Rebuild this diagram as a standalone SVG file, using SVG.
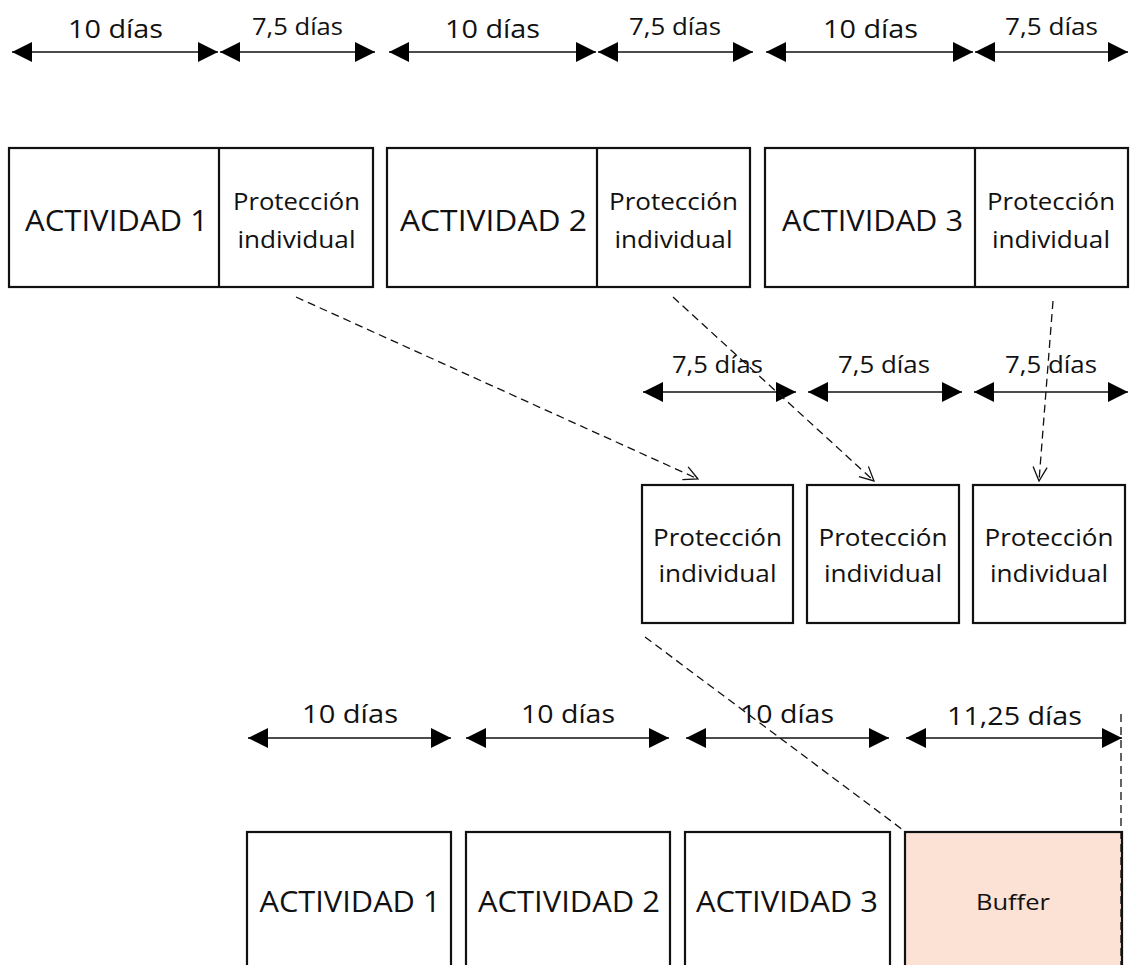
<svg xmlns="http://www.w3.org/2000/svg" width="1130" height="965" viewBox="0 0 1130 965">
  <style>
    .box { fill: #ffffff; stroke: #111111; stroke-width: 2.2; }
    .buffer { fill: #fbe2d5; stroke: #111111; stroke-width: 2.2; }
    .div { stroke: #111111; stroke-width: 2.2; }
    .dim { stroke: #111111; stroke-width: 1.6; fill: none; marker-start: url(#tri); marker-end: url(#tri); }
    .link { stroke: #111111; stroke-width: 1.3; stroke-dasharray: 8 5; fill: none; }
    .arrowed { marker-end: url(#open); }
    text { font-family: "Open Sans", "Noto Sans", "Liberation Sans", sans-serif; fill: #111111; text-anchor: middle; }
    .big { font-size: 30px; }
    .dur { font-size: 26px; }
    .dur2 { font-size: 24px; }
    .prot { font-size: 24px; }
    .buf { font-size: 21px; }
  </style>
  <defs>
    <marker id="tri" viewBox="0 0 20 20" refX="20" refY="10" markerWidth="20" markerHeight="20" markerUnits="userSpaceOnUse" orient="auto-start-reverse">
      <path d="M0,0 L20,10 L0,20 Z" fill="#000000" stroke="none"/>
    </marker>
    <marker id="open" viewBox="-1 -1 16 16" refX="14" refY="7" markerWidth="16" markerHeight="16" markerUnits="userSpaceOnUse" orient="auto">
      <path d="M0,0 L14,7 L0,14" fill="none" stroke="#111111" stroke-width="1.3" stroke-dasharray="none"/>
    </marker>
  </defs>

  <!-- duration dimensions, top row -->
  <g id="dims-top">
    <line class="dim" x1="12" y1="52" x2="218" y2="52"/>
    <line class="dim" x1="220" y1="52" x2="375" y2="52"/>
    <line class="dim" x1="389" y1="52" x2="596" y2="52"/>
    <line class="dim" x1="598" y1="52" x2="753" y2="52"/>
    <line class="dim" x1="766" y1="52" x2="973" y2="52"/>
    <line class="dim" x1="975" y1="52" x2="1128" y2="52"/>
    <text class="dur" x="115.5" y="38" textLength="95" lengthAdjust="spacingAndGlyphs">10 días</text>
    <text class="dur2" x="297.5" y="35" textLength="91" lengthAdjust="spacingAndGlyphs">7,5 días</text>
    <text class="dur" x="492.5" y="38" textLength="95" lengthAdjust="spacingAndGlyphs">10 días</text>
    <text class="dur2" x="675" y="35" textLength="92" lengthAdjust="spacingAndGlyphs">7,5 días</text>
    <text class="dur" x="870.5" y="38" textLength="95" lengthAdjust="spacingAndGlyphs">10 días</text>
    <text class="dur2" x="1051.5" y="35" textLength="93" lengthAdjust="spacingAndGlyphs">7,5 días</text>
  </g>

  <!-- activities with their own protection -->
  <g id="act1-top">
    <rect class="box" x="9" y="148" width="364" height="139"/>
    <line class="div" x1="219" y1="148" x2="219" y2="287"/>
    <text class="big" x="116.5" y="231" textLength="183" lengthAdjust="spacingAndGlyphs">ACTIVIDAD 1</text>
    <text class="prot" x="296.5" y="210" textLength="127" lengthAdjust="spacingAndGlyphs">Protección</text>
    <text class="prot" x="296.5" y="248" textLength="118" lengthAdjust="spacingAndGlyphs">individual</text>
  </g>
  <g id="act2-top">
    <rect class="box" x="387" y="148" width="363" height="139"/>
    <line class="div" x1="597" y1="148" x2="597" y2="287"/>
    <text class="big" x="493.5" y="231" textLength="187" lengthAdjust="spacingAndGlyphs">ACTIVIDAD 2</text>
    <text class="prot" x="673.5" y="210" textLength="129" lengthAdjust="spacingAndGlyphs">Protección</text>
    <text class="prot" x="673.5" y="248" textLength="118" lengthAdjust="spacingAndGlyphs">individual</text>
  </g>
  <g id="act3-top">
    <rect class="box" x="765" y="148" width="363" height="139"/>
    <line class="div" x1="975" y1="148" x2="975" y2="287"/>
    <text class="big" x="872.5" y="231" textLength="181" lengthAdjust="spacingAndGlyphs">ACTIVIDAD 3</text>
    <text class="prot" x="1051" y="210" textLength="128" lengthAdjust="spacingAndGlyphs">Protección</text>
    <text class="prot" x="1051" y="248" textLength="118" lengthAdjust="spacingAndGlyphs">individual</text>
  </g>

  <!-- extracted protections -->
  <g id="dims-mid">
    <line class="dim" x1="643" y1="392" x2="796" y2="392"/>
    <line class="dim" x1="808" y1="392" x2="962" y2="392"/>
    <line class="dim" x1="974" y1="392" x2="1128" y2="392"/>
    <text class="dur2" x="717.5" y="373" textLength="91" lengthAdjust="spacingAndGlyphs">7,5 días</text>
    <text class="dur2" x="884" y="373" textLength="92" lengthAdjust="spacingAndGlyphs">7,5 días</text>
    <text class="dur2" x="1051" y="373" textLength="92" lengthAdjust="spacingAndGlyphs">7,5 días</text>
  </g>
  <g id="prot1">
    <rect class="box" x="642" y="485" width="151" height="138"/>
    <text class="prot" x="717.5" y="546" textLength="129" lengthAdjust="spacingAndGlyphs">Protección</text>
    <text class="prot" x="717.5" y="582" textLength="118" lengthAdjust="spacingAndGlyphs">individual</text>
  </g>
  <g id="prot2">
    <rect class="box" x="807" y="485" width="152" height="138"/>
    <text class="prot" x="883" y="546" textLength="129" lengthAdjust="spacingAndGlyphs">Protección</text>
    <text class="prot" x="883" y="582" textLength="118" lengthAdjust="spacingAndGlyphs">individual</text>
  </g>
  <g id="prot3">
    <rect class="box" x="973" y="485" width="152" height="138"/>
    <text class="prot" x="1049" y="546" textLength="129" lengthAdjust="spacingAndGlyphs">Protección</text>
    <text class="prot" x="1049" y="582" textLength="118" lengthAdjust="spacingAndGlyphs">individual</text>
  </g>

  <!-- aggregated schedule -->
  <g id="dims-bottom">
    <line class="dim" x1="248" y1="738" x2="451" y2="738"/>
    <line class="dim" x1="466" y1="738" x2="669" y2="738"/>
    <line class="dim" x1="686" y1="738" x2="889" y2="738"/>
    <line class="dim" x1="906" y1="738" x2="1122" y2="738"/>
    <text class="dur" x="350" y="723" textLength="96" lengthAdjust="spacingAndGlyphs">10 días</text>
    <text class="dur" x="568" y="723" textLength="94" lengthAdjust="spacingAndGlyphs">10 días</text>
    <text class="dur" x="787" y="723" textLength="94" lengthAdjust="spacingAndGlyphs">10 días</text>
    <text class="dur" x="1014.5" y="725" textLength="135" lengthAdjust="spacingAndGlyphs">11,25 días</text>
  </g>
  <g id="act1-bottom">
    <rect class="box" x="247" y="832" width="204" height="150"/>
    <text class="big" x="350" y="912" textLength="181" lengthAdjust="spacingAndGlyphs">ACTIVIDAD 1</text>
  </g>
  <g id="act2-bottom">
    <rect class="box" x="466" y="832" width="204" height="150"/>
    <text class="big" x="569" y="912" textLength="182" lengthAdjust="spacingAndGlyphs">ACTIVIDAD 2</text>
  </g>
  <g id="act3-bottom">
    <rect class="box" x="685" y="832" width="205" height="150"/>
    <text class="big" x="787" y="912" textLength="182" lengthAdjust="spacingAndGlyphs">ACTIVIDAD 3</text>
  </g>
  <g id="buffer">
    <rect class="buffer" x="905" y="832" width="217" height="150"/>
    <text class="buf" x="1013" y="910" textLength="74" lengthAdjust="spacingAndGlyphs">Buffer</text>
  </g>

  <!-- dashed connectors -->
  <g id="connectors">
    <line class="link arrowed" x1="296" y1="297" x2="698" y2="479"/>
    <line class="link arrowed" x1="673" y1="297" x2="874" y2="481"/>
    <line class="link arrowed" x1="1053" y1="301" x2="1039" y2="481"/>
    <line class="link" x1="645" y1="637" x2="903" y2="830"/>
    <line class="link" x1="1121" y1="714" x2="1121" y2="965"/>
  </g>
</svg>
